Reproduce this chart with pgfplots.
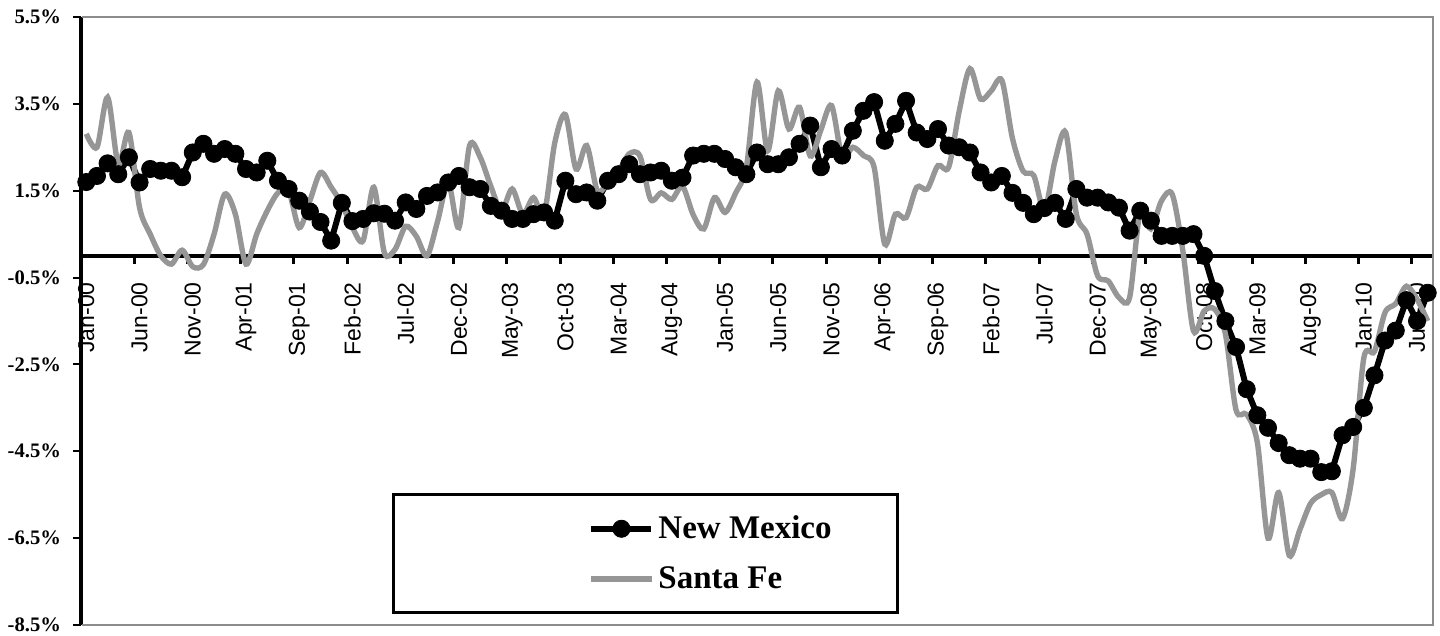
\documentclass[border=0pt]{standalone}
\usepackage{fontspec}
\setmainfont{Liberation Sans}
\newfontfamily\tnr{Liberation Serif}
\usepackage{pgfplots}
\usepackage{pgfplotstable}
\pgfplotsset{compat=1.18}
\definecolor{sfgray}{RGB}{150,150,150}
\definecolor{boxgray}{RGB}{140,140,140}

\pgfplotstableread{
i nm sf
0 1.70 2.81
1 1.84 2.50
2 2.13 3.65
3 1.88 2.11
4 2.27 2.84
5 1.69 1.11
6 2.00 0.50
7 1.96 0.00
8 1.96 -0.19
9 1.81 0.13
10 2.38 -0.25
11 2.58 -0.20
12 2.35 0.50
13 2.46 1.42
14 2.35 0.96
15 2.00 -0.19
16 1.92 0.50
17 2.19 1.04
18 1.73 1.45
19 1.54 1.50
20 1.27 0.65
21 1.02 1.27
22 0.78 1.92
23 0.35 1.58
24 1.22 1.19
25 0.80 0.65
26 0.85 0.35
27 0.98 1.58
28 0.97 0.07
29 0.81 0.15
30 1.23 0.68
31 1.08 0.45
32 1.38 0.00
33 1.46 0.80
34 1.69 1.69
35 1.84 0.65
36 1.58 2.54
37 1.54 2.27
38 1.15 1.60
39 1.04 1.04
40 0.85 1.54
41 0.85 0.96
42 0.96 1.34
43 1.00 0.96
44 0.81 2.60
45 1.73 3.25
46 1.42 2.00
47 1.46 2.54
48 1.27 1.50
49 1.73 1.69
50 1.88 1.95
51 2.11 2.35
52 1.88 2.30
53 1.92 1.30
54 1.96 1.45
55 1.73 1.30
56 1.80 1.60
57 2.31 0.95
58 2.35 0.62
59 2.35 1.34
60 2.23 1.00
61 2.04 1.45
62 1.88 2.04
63 2.38 4.00
64 2.11 2.42
65 2.11 3.80
66 2.27 2.92
67 2.58 3.42
68 3.00 2.30
69 2.04 2.90
70 2.46 3.46
71 2.31 2.27
72 2.88 2.50
73 3.34 2.31
74 3.54 2.04
75 2.65 0.27
76 3.04 0.96
77 3.57 0.88
78 2.84 1.58
79 2.69 1.54
80 2.92 2.08
81 2.54 2.04
82 2.50 3.34
83 2.38 4.31
84 1.92 3.61
85 1.69 3.80
86 1.84 4.04
87 1.45 2.70
88 1.22 1.95
89 0.96 1.85
90 1.10 1.05
91 1.22 2.20
92 0.85 2.84
93 1.54 0.96
94 1.34 0.50
95 1.34 -0.46
96 1.23 -0.58
97 1.11 -0.96
98 0.58 -0.96
99 1.04 1.04
100 0.81 0.62
101 0.46 1.27
102 0.46 1.42
103 0.46 0.12
104 0.50 -1.73
105 0.00 -1.27
106 -0.81 -1.23
107 -1.50 -1.80
108 -2.10 -3.55
109 -3.07 -3.65
110 -3.67 -4.30
111 -3.96 -6.50
112 -4.31 -5.45
113 -4.59 -6.90
114 -4.67 -6.30
115 -4.67 -5.70
116 -4.98 -5.50
117 -4.96 -5.45
118 -4.13 -6.05
119 -3.94 -4.90
120 -3.50 -2.35
121 -2.75 -2.20
122 -1.95 -1.30
123 -1.72 -1.10
124 -1.02 -0.70
125 -1.50 -1.00
126 -0.85 -1.50
}\datatable

\begin{document}
\begin{tikzpicture}
\begin{axis}[
  scale only axis, width=676pt, height=304pt,
  xmin=-0.5, xmax=126.5, ymin=-8.5, ymax=5.5,
  axis x line*=middle, axis y line*=left,
  hide obscured x ticks=false,
  clip=false,
  x axis line style={line width=2pt, black},
  y axis line style={line width=1.7pt, black},
  tick align=outside,
  major tick length=4pt, minor tick length=4pt,
  xtick={0,5,...,125},
  xticklabels={Jan-00,Jun-00,Nov-00,Apr-01,Sep-01,Feb-02,Jul-02,Dec-02,May-03,Oct-03,Mar-04,Aug-04,Jan-05,Jun-05,Nov-05,Apr-06,Sep-06,Feb-07,Jul-07,Dec-07,May-08,Oct-08,Mar-09,Aug-09,Jan-10,Jun-10},
  minor xtick={4.5,9.5,...,124.5},
  every major x tick/.append style={draw=none},
  every minor x tick/.append style={line width=1.5pt, black},
  every major y tick/.append style={line width=1pt, black},
  xticklabel style={yshift=-9pt, rotate=90, anchor=east, font=\fontsize{11.5}{12}\selectfont, inner sep=0pt},
  ytick={-8.5,-6.5,...,5.5},
  yticklabel={\pgfmathprintnumber[assume math mode=true,fixed,fixed zerofill,precision=1]{\tick}\%},
  yticklabel style={font=\tnr\bfseries\fontsize{10.3}{11}\selectfont},
  yticklabel shift=2.5pt,
  legend style={at={(0.23,0.018)}, anchor=south west, draw=black, line width=1.5pt,
    font=\tnr\bfseries\fontsize{16.5}{18}\selectfont, inner xsep=2pt, inner ysep=8.5pt, row sep=8.5pt},
  legend cell align=left,
  legend image code/.code={\path[draw=none,fill=none] (-97pt,-1pt) rectangle (0pt,1pt);
    \draw[mark repeat=2,mark phase=2,#1] plot coordinates {(0pt,0pt) (15pt,0pt) (30pt,0pt)};},
]
\draw[boxgray, line width=1.2pt] (rel axis cs:0.001,0) -- (rel axis cs:1,0) -- (rel axis cs:1,1) -- (rel axis cs:0.001,1);
\addplot[black, line width=3pt, mark=*, mark size=4.3pt, mark options={solid, fill=black, line width=0.4pt}] table[x=i, y=nm] {\datatable};
\addlegendentry{New Mexico\hspace*{29pt}}
\addplot[sfgray, line width=2.7pt, smooth, tension=0.5, no marks] table[x=i, y=sf] {\datatable};
\addlegendentry{Santa Fe}
\coordinate (BL) at (rel axis cs:0,0);
\coordinate (TR) at (rel axis cs:1,1);
\end{axis}
\pgfresetboundingbox
\path ([shift={(-40.5pt,-5pt)}]BL) rectangle ([shift={(3.5pt,8.5pt)}]TR);
\end{tikzpicture}
\end{document}
